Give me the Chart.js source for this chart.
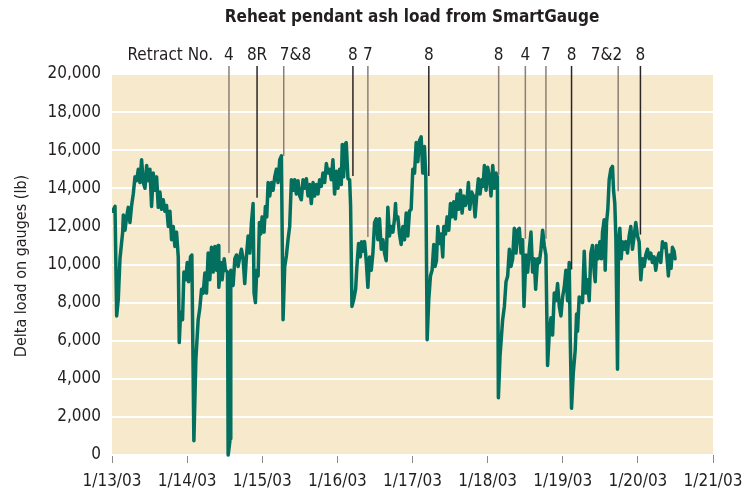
<!DOCTYPE html>
<html>
<head>
<meta charset="utf-8">
<script src="https://cdn.jsdelivr.net/npm/chart.js@4"></script>
<style>
    html, body { margin: 0; padding: 0; background: #ffffff; }
    #wrap { width: 752px; height: 491px; position: relative; }
</style>
</head>
<body>
<div id="wrap"><canvas id="chart" width="752" height="491"></canvas></div>
<script>
// days since 1/13/03 00:00
let days = [
    0.009, 0.040, 0.062, 0.084, 0.106, 0.142, 0.151, 0.173, 0.195, 0.217,
    0.239, 0.261, 0.283, 0.306, 0.328, 0.350, 0.372, 0.394, 0.416, 0.439,
    0.461, 0.483, 0.505, 0.527, 0.549, 0.571, 0.594, 0.616, 0.638, 0.660,
    0.682, 0.704, 0.726, 0.749, 0.771, 0.793, 0.815, 0.837, 0.859, 0.882,
    0.895, 0.913, 0.939, 0.957, 0.983, 1.001, 1.019, 1.045, 1.063, 1.090,
    1.116, 1.147, 1.169, 1.192, 1.214, 1.236, 1.258, 1.280, 1.302, 1.324,
    1.347, 1.369, 1.391, 1.413, 1.422, 1.449, 1.466, 1.493, 1.511, 1.537,
    1.546, 1.573, 1.581, 1.612, 1.635, 1.657, 1.679, 1.701, 1.723, 1.745,
    1.767, 1.790, 1.812, 1.834, 1.856, 1.878, 1.891, 1.909, 1.927, 1.945,
    1.962, 1.980, 1.998, 2.024, 2.042, 2.060, 2.078, 2.100, 2.122, 2.144,
    2.166, 2.188, 2.210, 2.233, 2.255, 2.277, 2.299, 2.321, 2.343, 2.365,
    2.388, 2.410, 2.432, 2.454, 2.476, 2.498, 2.520, 2.543, 2.565, 2.587,
    2.609, 2.631, 2.653, 2.676, 2.698, 2.720, 2.742, 2.764, 2.786, 2.808,
    2.831, 2.853, 2.875, 2.897, 2.919, 2.941, 2.963, 2.986, 3.008, 3.030,
    3.052, 3.065, 3.083, 3.101, 3.118, 3.141, 3.163, 3.176, 3.194, 3.220,
    3.243, 3.260, 3.282, 3.305, 3.322, 3.340, 3.362, 3.384, 3.406, 3.429,
    3.451, 3.473, 3.495, 3.517, 3.539, 3.561, 3.584, 3.606, 3.628, 3.650,
    3.672, 3.694, 3.716, 3.739, 3.761, 3.774, 3.783, 3.805, 3.827, 3.849,
    3.872, 3.894, 3.916, 3.938, 3.960, 3.982, 4.004, 4.027, 4.049, 4.071,
    4.093, 4.115, 4.137, 4.159, 4.177, 4.195, 4.217, 4.239, 4.261, 4.283,
    4.301, 4.319, 4.337, 4.359, 4.381, 4.403, 4.416, 4.439, 4.461, 4.483,
    4.505, 4.527, 4.549, 4.571, 4.594, 4.616, 4.638, 4.660, 4.682, 4.704,
    4.726, 4.744, 4.762, 4.788, 4.811, 4.833, 4.855, 4.877, 4.899, 4.921,
    4.939, 4.957, 4.979, 5.001, 5.023, 5.045, 5.068, 5.090, 5.112, 5.130,
    5.143, 5.165, 5.187, 5.200, 5.223, 5.245, 5.267, 5.289, 5.311, 5.333,
    5.355, 5.378, 5.400, 5.422, 5.444, 5.466, 5.484, 5.510, 5.533, 5.555,
    5.577, 5.599, 5.621, 5.639, 5.666, 5.688, 5.710, 5.732, 5.754, 5.776,
    5.798, 5.821, 5.843, 5.865, 5.887, 5.909, 5.931, 5.954, 5.976, 5.998,
    6.020, 6.042, 6.064, 6.086, 6.100, 6.117, 6.140, 6.166, 6.184, 6.197,
    6.219, 6.263, 6.286, 6.308, 6.330, 6.352, 6.374, 6.396, 6.419, 6.432,
    6.450, 6.472, 6.494, 6.516, 6.529, 6.551, 6.565, 6.583, 6.600, 6.618,
    6.640, 6.662, 6.676, 6.693, 6.707, 6.729, 6.742, 6.760, 6.777, 6.795,
    6.817, 6.839, 6.862, 6.884, 6.906, 6.928, 6.950, 6.972, 6.995, 7.017,
    7.039, 7.061, 7.083, 7.105, 7.128, 7.150, 7.172, 7.194, 7.216, 7.238,
    7.260, 7.283, 7.305, 7.327, 7.349, 7.371, 7.393, 7.406, 7.424, 7.442,
    7.460, 7.482, 7.495
]

// delta load, lb
let load = [
    12800, 13050, 7300, 8200, 10300, 11700, 12600, 11800, 12500, 13000,
    12200, 13100, 13700, 14600, 14400, 15000, 14300, 15500, 14300, 14000,
    15200, 14400, 15000, 13050, 14800, 13900, 14600, 13000, 13800, 12900,
    13400, 12800, 13100, 12000, 12800, 11300, 12000, 10950, 11700, 10400,
    5900, 7500, 7100, 9600, 9200, 10100, 9100, 10400, 10500, 750,
    5000, 7100, 7700, 8700, 8500, 9550, 8500, 10600, 9200, 10900,
    9600, 10950, 9700, 11000, 8800, 10100, 9200, 10300, 9700, 9600,
    0, 850, 9700, 8900, 10300, 10500, 9900, 10400, 10800, 10300,
    9000, 10450, 11500, 10600, 12200, 13200, 8500, 8000, 9700, 9400,
    12200, 11600, 12500, 11700, 13050, 12500, 14300, 13600, 14300, 13900,
    14600, 15000, 14300, 15500, 15700, 7100, 9900, 10450, 11300, 12000,
    14450, 13900, 14450, 13700, 14400, 13600, 13400, 14450, 14000, 14500,
    13600, 14200, 13200, 14300, 13600, 14200, 13700, 14450, 14100, 14800,
    14300, 15300, 14800, 15000, 14450, 15500, 13700, 14900, 14000, 15000,
    14200, 16300, 14600, 16300, 16400, 14500, 14450, 13100, 7800, 8200,
    8700, 9900, 11100, 10400, 11200, 10700, 11200, 10200, 8800, 10400,
    9700, 10600, 12200, 12400, 11300, 12400, 10800, 11300, 10600, 10200,
    13000, 11500, 12000, 11700, 12400, 13200, 12400, 12500, 11600, 11050,
    12000, 11300, 12700, 11500, 12800, 12900, 15000, 14800, 16400, 15400,
    16500, 16700, 14800, 16200, 14600, 6050, 8200, 9400, 9700, 11050,
    9900, 10200, 12000, 11100, 11600, 10400, 12000, 11600, 12500, 11800,
    13200, 12500, 13300, 12400, 13700, 12900, 13900, 12700, 13600, 13100,
    13400, 14300, 12900, 13800, 13600, 12500, 13600, 14500, 13700, 14450,
    14100, 15200, 13900, 15100, 14600, 13600, 15200, 14000, 14800, 14600,
    3000, 5200, 6400, 7100, 7800, 9100, 9400, 10800, 9900, 10300,
    11900, 10600, 11800, 11900, 10600, 11300, 7800, 10500, 9600, 10800,
    11700, 9600, 10300, 8700, 10300, 10100, 10800, 11800, 11000, 10500,
    4700, 6400, 7200, 6300, 8500, 8100, 9000, 7800, 7300, 8300,
    8800, 9700, 8100, 10100, 6100, 2450, 4300, 5500, 7400, 6500,
    8300, 8000, 10700, 8500, 9200, 8100, 10600, 11000, 9600, 9100,
    11000, 10300, 11200, 10300, 11700, 12350, 9700, 12200, 12900, 14450,
    15000, 15150, 13900, 13200, 11400, 4500, 11100, 11900, 10300, 11200,
    10800, 11200, 10600, 11500, 12000, 10800, 11500, 12200, 11500, 11200,
    9200, 10300, 9900, 10500, 10800, 10300, 10600, 10100, 10400, 9700,
    10300, 10600, 10100, 11200, 10900, 11100, 10100, 9400, 10500, 9800,
    10900, 10700, 10300
]

let dateLabels = ["1/13/03", "1/14/03", "1/15/03", "1/16/03", "1/17/03", "1/18/03", "1/19/03", "1/20/03", "1/21/03"]

// soot-blower retracts: label, time (days), load where the marker meets the trace
let retractLabels = ["4", "8R", "7&8", "8", "7", "8", "8", "4", "7", "8", "7&2", "8"]
let retractDays = [1.557, 1.931, 2.286, 3.207, 3.406, 4.217, 5.147, 5.502, 5.776, 6.117, 6.738, 7.034]
let retractEnds = [10600, 13500, 15700, 14650, 11450, 14650, 14700, 11350, 11350, 9740, 13850, 11570]
let retractAlign = ["center", "center", "left", "center", "center", "center", "center", "center", "center", "center", "right", "center"]
let retractColors = ["#8a7f77", "#2a2627", "#8a7f77", "#2a2627", "#8a7f77", "#2a2627", "#8a7f77", "#8a7f77", "#8a7f77", "#2a2627", "#8a7f77", "#2a2627"]

const FONT = '"Liberation Sans Narrow", "DejaVu Sans Condensed", "Liberation Sans", sans-serif'
const TEXT = "#231f20"

const plotBackground = {
    id: "plotBackground",
    beforeDraw(chart) {
        const {ctx, chartArea} = chart
        ctx.save()
        ctx.fillStyle = "#f7e9cc"
        ctx.fillRect(chartArea.left, chartArea.top, chartArea.right - chartArea.left, chartArea.bottom - chartArea.top)
        ctx.restore()
    }
}

const annotations = {
    id: "annotations",
    afterDatasetsDraw(chart) {
        const {ctx} = chart
        const x = chart.scales.x
        const y = chart.scales.y
        ctx.save()
        ctx.font = `17px ${FONT}`
        ctx.fillStyle = TEXT
        ctx.textBaseline = "middle"
        ctx.textAlign = "right"
        ctx.fillText("Retract No.", 213, 56)
        retractLabels.forEach((label, i) => {
            let px = x.getPixelForValue(retractDays[i])
            ctx.strokeStyle = retractColors[i]
            ctx.lineWidth = 1.5
            ctx.beginPath()
            ctx.moveTo(px, 66)
            ctx.lineTo(px, y.getPixelForValue(retractEnds[i]))
            ctx.stroke()
            ctx.textAlign = retractAlign[i]
            let tx = px
            if (retractAlign[i] === "left") tx = px - 4
            if (retractAlign[i] === "right") tx = px + 4
            ctx.fillText(label, tx, 56)
        })
        // title
        ctx.font = `bold 17px ${FONT}`
        ctx.textAlign = "center"
        ctx.fillText("Reheat pendant ash load from SmartGauge", 412, 18)
        // y title
        ctx.font = `16px ${FONT}`
        ctx.translate(22, 266)
        ctx.rotate(-Math.PI / 2)
        ctx.fillText("Delta load on gauges (lb)", 0, 0)
        ctx.restore()
    }
}

new Chart(document.getElementById("chart"), {
    type: "line",
    data: {
        datasets: [{
            data: days.map((d, i) => ({x: d, y: load[i]})),
            borderColor: "#03705f",
            borderWidth: 3.5,
            pointRadius: 0,
            tension: 0,
            borderJoinStyle: "round",
            borderCapStyle: "round",
            clip: {left: 0, right: 0, top: 0, bottom: 3}
        }]
    },
    options: {
        responsive: false,
        animation: false,
        layout: {padding: {left: 0, top: 74, right: 39, bottom: 0}},
        plugins: {legend: {display: false}, tooltip: {enabled: false}},
        scales: {
            x: {
                type: "linear",
                min: 0,
                max: 8,
                border: {display: false},
                grid: {drawOnChartArea: false, drawTicks: true, tickLength: 8, color: "#8a8a8a", lineWidth: 1},
                ticks: {
                    stepSize: 1,
                    padding: 8,
                    color: TEXT,
                    font: {family: FONT, size: 17},
                    maxRotation: 0,
                    callback: (v) => dateLabels[v]
                },
                afterFit: (scale) => { scale.height = 36 }
            },
            y: {
                min: 0,
                max: 20000,
                border: {display: false},
                grid: {color: "#ffffff", lineWidth: 2, drawTicks: false},
                ticks: {
                    stepSize: 2000,
                    padding: 11,
                    color: TEXT,
                    font: {family: FONT, size: 17},
                    callback: (v) => v.toLocaleString("en-US")
                },
                afterFit: (scale) => { scale.width = 112 }
            }
        }
    },
    plugins: [plotBackground, annotations]
})
</script>
</body>
</html>
